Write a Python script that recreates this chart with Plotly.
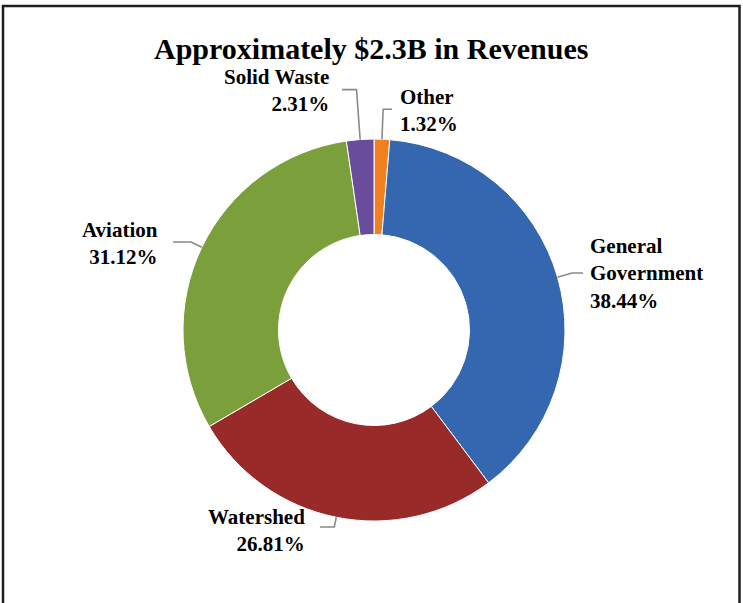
import math
import plotly.graph_objects as go

# Revenue shares (percent), in clockwise order starting at 12 o'clock
categories = ["Other", "General Government", "Watershed", "Aviation", "Solid Waste"]
shares = [1.32, 38.44, 26.81, 31.12, 2.31]
label_lines = [
    ["Other", "1.32%"],
    ["General", "Government", "38.44%"],
    ["Watershed", "26.81%"],
    ["Aviation", "31.12%"],
    ["Solid Waste", "2.31%"],
]
colors = ["#F28021", "#3567B0", "#982B2A", "#7BA03B", "#6A4C9C"]
title_text = "Approximately $2.3B in Revenues"

W, H = 743, 603
CX, CY, R = 374, 330, 191          # donut centre and outer radius (px)
FONT = "Liberation Serif"


def px(x):
    return x / W


def py(y):
    return 1 - y / H


fig = go.Figure(go.Pie(
    labels=categories,
    values=shares,
    sort=False,
    direction="clockwise",
    rotation=0,
    hole=0.5,
    marker=dict(colors=colors, line=dict(color="#ffffff", width=1)),
    textinfo="none",
    hoverinfo="label+percent",
    domain=dict(x=[px(CX - R), px(CX + R)], y=[py(CY + R), py(CY - R)]),
    showlegend=False,
))

# label placement: (anchor side, text x, text centre y, leader radial length, leader end x)
placement = {
    "Other": ("left", 398, 111, 30, 392),
    "General Government": ("left", 588, 274, 15, 583),
    "Watershed": ("right", 307, 530, 10, 320),
    "Aviation": ("right", 160, 244, 12, 173),
    "Solid Waste": ("right", 331, 91, 50, 342),
}

annotations = [dict(
    text="<b>" + title_text + "</b>",
    x=px(371), y=py(49), xref="paper", yref="paper",
    xanchor="center", yanchor="middle", showarrow=False,
    font=dict(family=FONT, size=30, color="#000000"),
)]
shapes = []

total = sum(shares)
cum = 0.0
for name, val, lines in zip(categories, shares, label_lines):
    mid = (cum + val / 2) / total * 2 * math.pi
    cum += val
    side, tx, ty, ext, lx = placement[name]
    # point on the outer edge at the slice's mid angle, then radially out to the elbow
    ax, ay = CX + R * math.sin(mid), CY - R * math.cos(mid)
    ex, ey = CX + (R + ext) * math.sin(mid), CY - (R + ext) * math.cos(mid)
    shapes.append(dict(
        type="path", xref="paper", yref="paper",
        path=f"M {px(ax)} {py(ay)} L {px(ex)} {py(ey)} L {px(lx)} {py(ey)}",
        line=dict(color="#8a8a8a", width=1.6),
    ))
    annotations.append(dict(
        text="<br>".join("<b>" + s + "</b>" for s in lines),
        x=px(tx), y=py(ty), xref="paper", yref="paper",
        xanchor=side, yanchor="middle", align=side, showarrow=False,
        font=dict(family=FONT, size=21, color="#000000"),
    ))

# chart frame
shapes.append(dict(
    type="path", xref="paper", yref="paper",
    path=f"M {px(3)} {py(620)} L {px(3)} {py(6)} L {px(739.5)} {py(6)} L {px(739.5)} {py(620)}",
    line=dict(color="#1e1e1e", width=2.5),
))

fig.update_layout(
    width=W, height=H,
    margin=dict(l=0, r=0, t=0, b=0),
    paper_bgcolor="#ffffff",
    plot_bgcolor="#ffffff",
    font=dict(family=FONT),
    annotations=annotations,
    shapes=shapes,
)

fig.write_html("out.html")
